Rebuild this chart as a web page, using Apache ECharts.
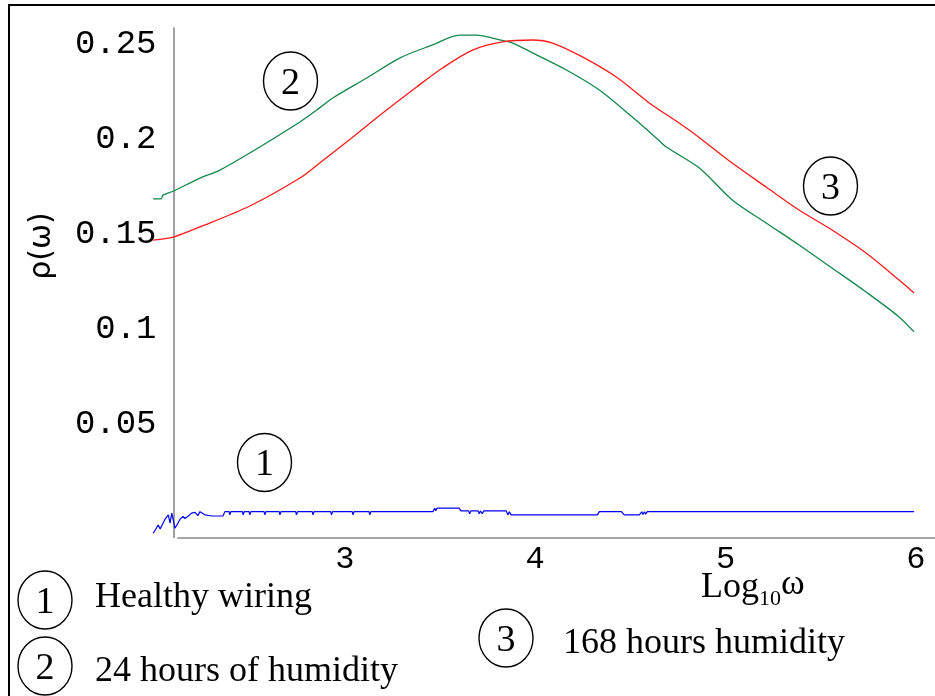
<!DOCTYPE html>
<html>
<head>
<meta charset="utf-8">
<script src="https://cdn.jsdelivr.net/npm/echarts@6/dist/echarts.min.js"></script>
<style>
  html, body { margin: 0; padding: 0; background: #fff; }
  #chart { width: 935px; height: 696px; }
</style>
</head>
<body>
<div id="chart"></div>
<script>
// Spectral density rho(omega) against log10(omega) for three wiring conditions.
const healthyWiring = [
  [1.994, -0.0073], [2.020, -0.0029], [2.030, -0.0050], [2.055, 0.0000], [2.073, 0.0024],
  [2.082, -0.0020], [2.091, 0.0033], [2.108, -0.0046], [2.134, 0.0000], [2.150, 0.0016],
  [2.160, 0.0005], [2.178, 0.0018], [2.195, 0.0033], [2.213, 0.0037], [2.228, 0.0020],
  [2.239, 0.0041], [2.265, 0.0024], [2.302, 0.0018], [2.360, 0.0018], [2.370, 0.0041],
  [2.392, 0.0041], [2.396, 0.0024], [2.402, 0.0041], [2.462, 0.0041], [2.466, 0.0024],
  [2.472, 0.0041], [2.497, 0.0041], [2.501, 0.0024], [2.507, 0.0041], [2.576, 0.0041],
  [2.580, 0.0024], [2.586, 0.0041], [2.655, 0.0041], [2.659, 0.0024], [2.665, 0.0041],
  [2.742, 0.0041], [2.746, 0.0024], [2.752, 0.0041], [2.829, 0.0041], [2.833, 0.0024],
  [2.839, 0.0041], [2.926, 0.0041], [2.930, 0.0024], [2.936, 0.0041], [3.039, 0.0041],
  [3.043, 0.0024], [3.049, 0.0041], [3.127, 0.0041], [3.131, 0.0024], [3.137, 0.0041],
  [3.463, 0.0041], [3.472, 0.0059], [3.478, 0.0045], [3.484, 0.0059], [3.600, 0.0059],
  [3.610, 0.0045], [3.650, 0.0045], [3.656, 0.0030], [3.662, 0.0045], [3.700, 0.0045],
  [3.706, 0.0030], [3.712, 0.0045], [3.722, 0.0030], [3.730, 0.0045], [3.848, 0.0045],
  [3.856, 0.0024], [3.864, 0.0040], [3.874, 0.0024], [3.882, 0.0024], [4.327, 0.0024],
  [4.337, 0.0041], [4.453, 0.0041], [4.468, 0.0024], [4.547, 0.0024], [4.560, 0.0040],
  [4.566, 0.0026], [4.574, 0.0040], [4.580, 0.0028], [4.589, 0.0041], [5.990, 0.0041]
];

const humidity24h = [
  [1.993, 0.1685], [2.035, 0.1685], [2.045, 0.1705], [2.100, 0.1727], [2.239, 0.1795],
  [2.344, 0.1837], [2.501, 0.1927], [2.764, 0.2090], [2.868, 0.2164], [2.937, 0.2216],
  [3.115, 0.2321], [3.288, 0.2426], [3.461, 0.2495], [3.603, 0.2547], [3.692, 0.2547],
  [3.813, 0.2521], [3.881, 0.2505], [3.986, 0.2453], [4.164, 0.2363], [4.337, 0.2258],
  [4.510, 0.2116], [4.636, 0.2006], [4.689, 0.1958], [4.862, 0.1848], [5.035, 0.1680],
  [5.213, 0.1559], [5.386, 0.1443], [5.559, 0.1322], [5.738, 0.1196], [5.911, 0.1065],
  [5.990, 0.0986]
];

const humidity168h = [
  [1.993, 0.1469], [2.100, 0.1485], [2.239, 0.1538], [2.501, 0.1648], [2.764, 0.1795],
  [2.868, 0.1874], [3.036, 0.2006], [3.199, 0.2137], [3.377, 0.2274], [3.513, 0.2374],
  [3.671, 0.2468], [3.828, 0.2511], [3.986, 0.2521], [4.091, 0.2505], [4.248, 0.2432],
  [4.426, 0.2326], [4.599, 0.2190], [4.752, 0.2087], [4.854, 0.2014], [5.035, 0.1874],
  [5.213, 0.1748], [5.386, 0.1627], [5.559, 0.1522], [5.738, 0.1401], [5.911, 0.1259],
  [5.990, 0.1191]
];

const xTickValues = [3, 4, 5, 6];
const yTickValues = [0.05, 0.1, 0.15, 0.2, 0.25];
const yTickLabels = ['0.05', '0.1', '0.15', '0.2', '0.25'];

// where the two axes cross, in data units
const axisCross = { x: 2.1, y: -0.0095 };
const xRange = [1.99, 6.1];
const yRange = [-0.0095, 0.2584];

const legendItems = ['Healthy wiring', '24 hours of humidity', '168 hours humidity'];

const SERIF = '"Liberation Serif", "Times New Roman", serif';
const MONO = '"Liberation Mono", "DejaVu Sans Mono", monospace';

// plot box in pixels
const PX_PER_X = 190.64;
const PLOT_LEFT = 173.5 - (axisCross.x - xRange[0]) * PX_PER_X;
const PLOT_WIDTH = (xRange[1] - xRange[0]) * PX_PER_X;

function circled(num, cx, cy) {
  return {
    type: 'group',
    children: [
      { type: 'ellipse', shape: { cx: cx, cy: cy, rx: 27, ry: 29 },
        style: { fill: 'none', stroke: '#000', lineWidth: 1.4 } },
      { type: 'text', x: cx, y: cy + 3,
        style: { text: String(num), font: '38px ' + SERIF, fill: '#000',
                 align: 'center', verticalAlign: 'middle' } }
    ]
  };
}

function label(text, x, y) {
  return { type: 'text', x: x, y: y,
    style: { text: text, font: '36px ' + SERIF, fill: '#000', align: 'left', verticalAlign: 'middle' } };
}

const chart = echarts.init(document.getElementById('chart'), null, { renderer: 'canvas' });

chart.setOption({
  backgroundColor: '#fff',
  animation: false,
  grid: { left: PLOT_LEFT, top: 28, width: PLOT_WIDTH, height: 509.5, containLabel: false },
  xAxis: {
    type: 'value', min: xRange[0], max: xRange[1],
    axisLine: { show: false },
    axisTick: { show: false },
    splitLine: { show: false },
    axisLabel: {
      customValues: xTickValues, margin: 6,
      fontFamily: MONO, fontSize: 32, color: '#000'
    }
  },
  yAxis: {
    type: 'value', min: yRange[0], max: yRange[1],
    // shift the vertical axis right so it sits at x = axisCross.x
    offset: -(axisCross.x - xRange[0]) * PX_PER_X,
    axisLine: { show: true, onZero: false, lineStyle: { color: '#888', width: 1.6 } },
    axisTick: { show: false },
    splitLine: { show: false },
    axisLabel: {
      customValues: yTickValues, margin: 17,
      fontFamily: MONO, fontSize: 34, color: '#000',
      formatter: function (v) {
        const i = yTickValues.findIndex(t => Math.abs(t - v) < 1e-9);
        return i >= 0 ? yTickLabels[i] : '';
      }
    }
  },
  series: [
    { name: legendItems[0], type: 'line', data: healthyWiring, showSymbol: false,
      lineStyle: { color: '#0000ff', width: 1.2 },
      // horizontal axis line, starting just right of the vertical axis
      markLine: {
        silent: true, symbol: 'none', label: { show: false },
        lineStyle: { color: '#888', width: 1.6, type: 'solid' },
        data: [[{ coord: [axisCross.x + 0.02, axisCross.y] }, { coord: [xRange[1], axisCross.y] }]]
      } },
    { name: legendItems[1], type: 'line', data: humidity24h, showSymbol: false, smooth: 0.3,
      lineStyle: { color: '#11874a', width: 1.3 } },
    { name: legendItems[2], type: 'line', data: humidity168h, showSymbol: false, smooth: 0.3,
      lineStyle: { color: '#ff1a1a', width: 1.3 } }
  ],
  graphic: [
    // frame edges
    { type: 'polyline', shape: { points: [[9, 700], [9, 5], [940, 5]] },
      style: { fill: 'none', stroke: '#000', lineWidth: 2 } },
    // axis titles
    { type: 'text', x: 42, y: 246, rotation: Math.PI / 2,
      style: { text: 'ρ(ω)', font: '30px "DejaVu Sans", sans-serif', fill: '#000',
               align: 'center', verticalAlign: 'middle' } },
    { type: 'text', x: 701, y: 588,
      style: { text: 'Log', font: '36px ' + SERIF, fill: '#000', align: 'left', verticalAlign: 'middle' } },
    { type: 'text', x: 759, y: 599,
      style: { text: '10', font: '22px ' + SERIF, fill: '#000', align: 'left', verticalAlign: 'middle' } },
    { type: 'text', x: 781, y: 585,
      style: { text: 'ω', font: '36px ' + SERIF, fill: '#000', align: 'left', verticalAlign: 'middle' } },
    // curve markers inside the plot
    circled(2, 290.5, 81),
    circled(1, 264.5, 462.5),
    circled(3, 830.5, 186),
    // key below the axis
    circled(1, 45, 600),
    label(legendItems[0], 95, 598),
    circled(2, 45, 666),
    label(legendItems[1], 95, 672),
    circled(3, 506, 638),
    label(legendItems[2], 563, 644)
  ]
});
</script>
</body>
</html>
